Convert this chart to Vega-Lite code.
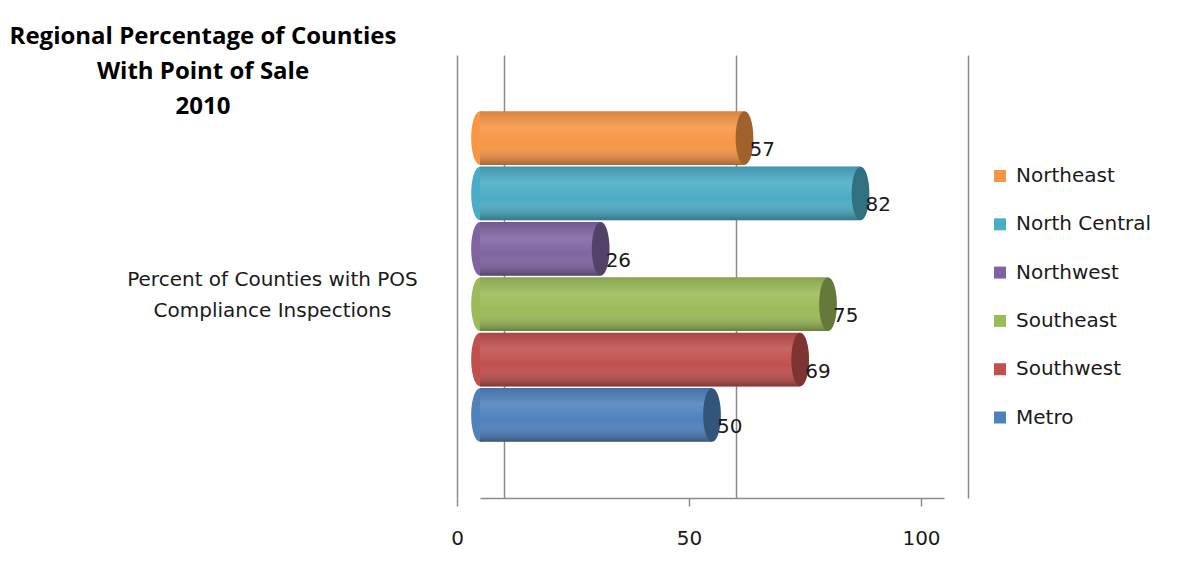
{
  "$schema": "https://vega.github.io/schema/vega-lite/v6.json",
  "width": 464,
  "height": 443,
  "autosize": {"type": "none"},
  "padding": {"left": 480, "top": 55, "right": 235, "bottom": 81},
  "background": "white",
  "config": {
    "view": {"stroke": null},
    "font": "DejaVu Sans",
    "text": {"font": "DejaVu Sans"}
  },
  "title": {
    "text": ["Regional Percentage of Counties", "With Point of Sale", "2010"],
    "anchor": "start",
    "frame": "group",
    "align": "center",
    "baseline": "top",
    "dx": -277,
    "dy": 64,
    "offset": 0,
    "fontSize": 24,
    "fontWeight": "bold",
    "font": "Open Sans",
    "color": "#000000",
    "lineHeight": 35
  },
  "data": {
    "values": [
      {"category": "Percent of Counties with POS Compliance Inspections", "region": "Northeast", "value": 57},
      {"category": "Percent of Counties with POS Compliance Inspections", "region": "North Central", "value": 82},
      {"category": "Percent of Counties with POS Compliance Inspections", "region": "Northwest", "value": 26},
      {"category": "Percent of Counties with POS Compliance Inspections", "region": "Southeast", "value": 75},
      {"category": "Percent of Counties with POS Compliance Inspections", "region": "Southwest", "value": 69},
      {"category": "Percent of Counties with POS Compliance Inspections", "region": "Metro", "value": 50}
    ]
  },
  "encoding": {
    "y": {
      "field": "category",
      "type": "nominal",
      "scale": {"paddingOuter": 0.17, "paddingInner": 0, "align": 0.5},
      "axis": {
        "title": null,
        "domain": true,
        "domainColor": "#8c8c8c",
        "domainWidth": 1.5,
        "ticks": false,
        "offset": 23,
        "labelFontSize": 20,
        "labelFont": "DejaVu Sans",
        "labelColor": "#1a1a1a",
        "labelAlign": "center",
        "labelBaseline": "middle",
        "labelPadding": 185,
        "labelLimit": 0,
        "labelLineHeight": 31,
        "labelOffset": 3,
        "labelExpr": "[slice(datum.label, 0, 28), slice(datum.label, 29)]"
      }
    },
    "yOffset": {
      "field": "region",
      "type": "nominal",
      "sort": ["Northeast", "North Central", "Northwest", "Southeast", "Southwest", "Metro"],
      "scale": {"paddingInner": 0.03, "paddingOuter": 0}
    },
    "color": {
      "field": "region",
      "type": "nominal",
      "scale": {
        "domain": ["Northeast", "North Central", "Northwest", "Southeast", "Southwest", "Metro"],
        "range": ["#F79646", "#4BACC6", "#8064A2", "#9BBB59", "#C0504D", "#4F81BD"]
      },
      "legend": {
        "title": null,
        "orient": "none",
        "legendX": 510,
        "legendY": 111,
        "padding": 0,
        "symbolType": "square",
        "symbolSize": 144,
        "symbolStrokeWidth": 0,
        "symbolOpacity": 1,
        "labelFontSize": 20,
        "labelFont": "DejaVu Sans",
        "labelColor": "#1a1a1a",
        "labelOffset": 6,
        "rowPadding": 28.3,
        "labelLimit": 0
      }
    }
  },
  "layer": [
    {
      "mark": {"type": "point", "shape": "M0,-1 A0.33,1 0 1,1 0,1 A0.33,1 0 1,1 0,-1 Z", "filled": true, "opacity": 1, "size": 2860, "strokeWidth": 0},
      "encoding": {
        "x": {"datum": 0, "type": "quantitative", "scale": {"domain": [0, 100], "nice": false}, "axis": null}
      }
    },
    {
      "mark": {"type": "bar"},
      "encoding": {
        "x": {
          "field": "value",
          "type": "quantitative",
          "scale": {"domain": [0, 100], "nice": false},
          "axis": {
            "orient": "bottom",
            "title": null,
            "values": [0, 50, 100],
            "tickOffset": -23,
            "grid": false,
            "domainColor": "#8c8c8c",
            "domainWidth": 1.5,
            "tickColor": "#8c8c8c",
            "tickWidth": 1.5,
            "tickSize": 8,
            "labelFontSize": 20,
            "labelFont": "DejaVu Sans",
            "labelColor": "#1a1a1a",
            "labelPadding": 22,
            "labelFlush": false
          }
        }
      }
    },
    {
      "mark": {
        "type": "bar",
        "color": {
          "gradient": "linear",
          "x1": 0, "y1": 0, "x2": 0, "y2": 1,
          "stops": [
            {"offset": 0, "color": "rgba(0,0,0,0.12)"},
            {"offset": 0.3, "color": "rgba(255,255,255,0.12)"},
            {"offset": 0.6, "color": "rgba(255,255,255,0)"},
            {"offset": 1, "color": "rgba(0,0,0,0.32)"}
          ]
        }
      },
      "encoding": {
        "x": {"field": "value", "type": "quantitative", "scale": {"domain": [0, 100], "nice": false}, "axis": null},
        "color": null
      }
    },
    {
      "mark": {"type": "point", "shape": "M0,-1 A0.33,1 0 1,1 0,1 A0.33,1 0 1,1 0,-1 Z", "filled": true, "opacity": 1, "size": 2860, "strokeWidth": 0},
      "encoding": {
        "x": {"field": "value", "type": "quantitative", "scale": {"domain": [0, 100], "nice": false}, "axis": null}
      }
    },
    {
      "mark": {"type": "point", "shape": "M0,-1 A0.33,1 0 1,1 0,1 A0.33,1 0 1,1 0,-1 Z", "filled": true, "color": "#000000", "opacity": 0.35, "size": 2860, "strokeWidth": 0},
      "encoding": {
        "x": {"field": "value", "type": "quantitative", "scale": {"domain": [0, 100], "nice": false}, "axis": null},
        "color": null
      }
    },
    {
      "mark": {"type": "text", "align": "left", "baseline": "middle", "dx": 5, "dy": 12, "fontSize": 20, "font": "DejaVu Sans", "color": "#1a1a1a"},
      "encoding": {
        "x": {
          "field": "value",
          "type": "quantitative",
          "scale": {"domain": [0, 100], "nice": false},
          "axis": {
            "orient": "top",
            "title": null,
            "values": [0, 50, 100],
            "tickOffset": 24,
            "grid": true,
            "gridColor": "#8c8c8c",
            "gridWidth": 1.5,
            "labels": false,
            "ticks": false,
            "domain": false
          }
        },
        "text": {"field": "value", "type": "quantitative"},
        "color": null
      }
    }
  ],
  "resolve": {"axis": {"x": "independent"}}
}
